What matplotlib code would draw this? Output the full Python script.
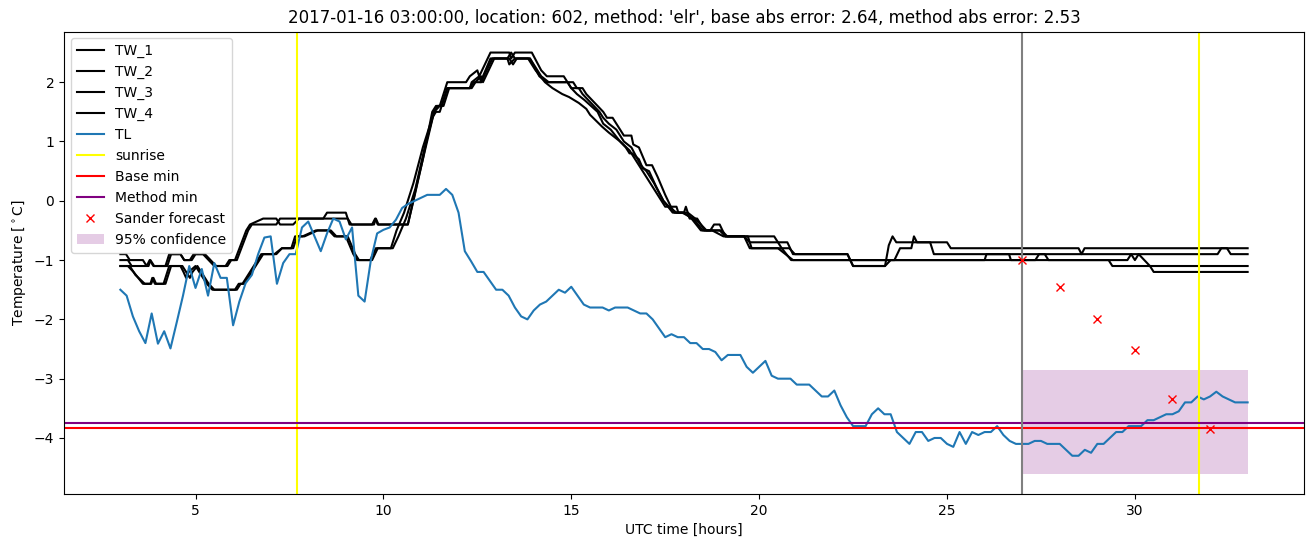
import matplotlib
matplotlib.use("Agg")
import matplotlib.pyplot as plt
import numpy as np

# ---------------- data (hours UTC, temperature degC) ----------------
TW_1 = [(3.0,-0.9),(3.15,-0.9),(3.25,-1.0),(3.6,-1.0),(3.7,-1.1),(3.78,-1.0),(3.88,-1.1),(4.2,-1.1),
        (4.3,-0.9),(4.6,-0.9),(4.7,-1.0),(4.85,-1.0),(4.95,-0.9),(5.2,-0.9),(5.35,-1.0),(5.5,-1.1),
        (5.8,-1.1),(5.9,-1.0),(6.05,-1.0),(6.35,-0.5),(6.45,-0.4),(6.8,-0.3),(7.15,-0.3),(7.25,-0.4),
        (7.6,-0.4),(7.75,-0.3),(8.4,-0.3),(8.5,-0.2),(9.0,-0.2),(9.1,-0.4),(9.75,-0.4),(9.8,-0.3),
        (9.87,-0.4),(10.65,-0.4),(10.9,0.3),(11.2,1.1),(11.35,1.5),(11.5,1.6),(11.7,2.0),(12.2,2.0),
        (12.3,2.1),(12.5,2.2),(12.55,2.1),(12.85,2.5),(13.35,2.5),(13.4,2.4),(13.5,2.5),(13.95,2.5),
        (14.2,2.2),(14.35,2.1),(14.8,2.1),(14.9,2.0),(15.05,2.0),(15.15,1.9),(15.3,1.9),(15.4,1.8),
        (15.55,1.7),(15.85,1.5),(15.95,1.4),(16.1,1.4),(16.2,1.3),(16.4,1.1),(16.6,1.1),(16.65,0.95),
        (16.8,0.9),(17.0,0.6),(17.15,0.6),(17.3,0.4),(17.5,0.1),(17.65,-0.1),(17.8,-0.1),(17.85,-0.2),
        (18.0,-0.2),(18.05,-0.1),(18.15,-0.3),(18.35,-0.3),(18.55,-0.5),(18.7,-0.5),(18.8,-0.4),
        (18.95,-0.4),(19.1,-0.6),(19.85,-0.6),(20.4,-0.6),(20.5,-0.7),(20.75,-0.7),(20.9,-0.9),
        (22.35,-0.9),(22.5,-1.1),(23.35,-1.1),(23.45,-0.75),(23.55,-0.6),(23.65,-0.7),(25.0,-0.7),
        (25.1,-0.8),(28.5,-0.8),(28.58,-0.9),(28.66,-0.8),(32.45,-0.8),(32.55,-0.9),(33.0,-0.9)]

TW_2 = [(3.0,-1.0),(3.2,-1.0),(3.3,-1.1),(3.75,-1.1),(3.8,-1.0),(3.9,-1.1),(4.25,-1.1),(4.35,-0.9),
        (4.6,-0.9),(4.7,-1.0),(4.9,-1.0),(5.0,-0.9),(5.25,-0.9),(5.4,-1.0),(5.55,-1.1),(5.85,-1.1),
        (5.95,-1.0),(6.1,-1.0),(6.4,-0.5),(6.5,-0.4),(7.15,-0.4),(7.25,-0.3),(9.05,-0.3),(9.15,-0.4),
        (9.7,-0.4),(9.78,-0.3),(9.85,-0.4),(10.65,-0.4),(10.8,0.0),(11.05,0.7),(11.3,1.5),(11.4,1.6),
        (11.55,1.6),(11.7,1.9),(12.3,1.9),(12.35,2.0),(12.55,2.1),(12.6,2.0),(12.9,2.4),(13.3,2.4),
        (13.35,2.3),(13.5,2.4),(13.9,2.4),(14.0,2.3),(14.2,2.1),(14.4,2.0),(14.9,2.0),(15.0,1.9),
        (15.2,1.9),(15.3,1.8),(15.45,1.7),(15.75,1.5),(15.85,1.4),(16.0,1.3),(16.2,1.2),(16.4,1.0),
        (16.6,0.9),(16.85,0.6),(17.0,0.5),(17.2,0.3),(17.45,0.0),(17.7,-0.2),(17.95,-0.2),(18.25,-0.3),
        (18.5,-0.5),(18.75,-0.5),(19.05,-0.6),(19.6,-0.6),(19.75,-0.7),(20.5,-0.7),(20.6,-0.8),
        (20.8,-0.8),(20.95,-0.9),(22.35,-0.9),(22.5,-1.1),(23.35,-1.1),(23.5,-1.0),(26.0,-1.0),
        (26.05,-0.9),(26.65,-0.9),(26.7,-1.0),(27.35,-1.0),(27.45,-0.9),(27.6,-0.9),(27.7,-1.0),
        (29.3,-1.0),(29.4,-1.1),(33.0,-1.1)]

TW_3 = [(3.0,-1.1),(3.2,-1.1),(3.35,-1.2),(3.6,-1.4),(3.8,-1.4),(3.85,-1.3),(3.92,-1.4),(4.15,-1.4),
        (4.3,-1.1),(4.6,-1.1),(4.68,-1.2),(4.75,-1.3),(4.82,-1.2),(5.0,-1.1),(5.1,-1.2),(5.3,-1.4),
        (5.45,-1.5),(6.05,-1.5),(6.15,-1.4),(6.25,-1.4),(6.55,-1.1),(6.75,-0.9),(7.1,-0.9),(7.3,-0.8),
        (7.55,-0.8),(7.65,-0.6),(7.85,-0.6),(8.2,-0.5),(8.55,-0.5),(8.7,-0.6),(9.0,-0.6),(9.2,-0.9),
        (9.3,-1.0),(9.65,-1.0),(9.8,-0.8),(10.2,-0.8),(10.35,-0.5),(10.55,-0.2),(10.8,0.3),(11.05,0.9),
        (11.3,1.4),(11.4,1.5),(11.5,1.5),(11.55,1.6),(11.7,1.9),(12.3,1.9),(12.4,2.0),(12.6,2.0),
        (12.65,2.1),(12.85,2.4),(13.3,2.4),(13.4,2.5),(13.5,2.4),(13.9,2.4),(14.15,2.1),(14.35,2.0),
        (14.9,2.0),(15.0,1.9),(15.15,1.8),(15.35,1.7),(15.7,1.5),(15.85,1.3),(16.05,1.2),(16.3,1.0),
        (16.55,0.85),(16.8,0.6),(17.0,0.4),(17.3,0.1),(17.5,-0.1),(17.65,-0.1),(17.75,-0.2),(18.0,-0.2),
        (18.2,-0.3),(18.45,-0.5),(18.95,-0.5),(19.1,-0.6),(19.6,-0.6),(19.75,-0.8),(20.6,-0.8),
        (20.85,-1.0),(23.6,-1.0),(23.75,-0.8),(24.05,-0.8),(24.12,-0.6),(24.2,-0.7),(24.55,-0.7),
        (24.65,-0.9),(32.2,-0.9),(32.3,-0.8),(33.0,-0.8)]

TW_4 = [(3.0,-1.1),(3.25,-1.1),(3.4,-1.25),(3.65,-1.4),(3.82,-1.4),(3.88,-1.3),(3.95,-1.4),(4.2,-1.4),
        (4.35,-1.1),(4.65,-1.1),(4.75,-1.2),(4.85,-1.3),(4.92,-1.2),(5.05,-1.1),(5.15,-1.2),(5.35,-1.4),
        (5.5,-1.5),(6.1,-1.5),(6.2,-1.4),(6.3,-1.4),(6.6,-1.1),(6.8,-0.9),(7.15,-0.9),(7.3,-0.8),
        (7.6,-0.8),(7.7,-0.6),(7.9,-0.6),(8.25,-0.5),(8.6,-0.5),(8.75,-0.6),(9.05,-0.6),(9.25,-0.9),
        (9.35,-1.0),(9.7,-1.0),(9.85,-0.8),(10.25,-0.8),(10.4,-0.6),(10.6,-0.3),(10.85,0.2),(11.1,0.9),
        (11.35,1.5),(11.45,1.6),(11.6,1.6),(11.75,1.9),(12.35,1.9),(12.45,2.0),(12.6,2.1),(12.65,2.0),
        (12.95,2.4),(13.35,2.4),(13.45,2.3),(13.55,2.4),(13.85,2.4),(14.05,2.2),(14.3,2.0),(14.5,1.9),
        (14.76,1.8),(14.94,1.75),(15.2,1.65),(15.4,1.55),(15.5,1.45),(15.82,1.25),(16.0,1.15),
        (16.1,1.1),(16.3,1.0),(16.45,0.9),(16.55,0.8),(16.62,0.8),(16.8,0.7),(16.9,0.55),(17.07,0.5),
        (17.25,0.25),(17.45,0.0),(17.6,-0.1),(17.8,-0.2),(18.1,-0.2),(18.3,-0.3),(18.6,-0.5),
        (19.0,-0.5),(19.15,-0.6),(19.7,-0.6),(19.8,-0.8),(20.5,-0.8),(20.9,-1.0),(29.8,-1.0),
        (29.9,-0.9),(30.0,-1.0),(30.1,-0.9),(30.25,-1.0),(30.4,-1.1),(30.5,-1.2),(33.0,-1.2)]

# TL every 10 minutes from 03:00 to 33:00
TL_start = 3.0
TL = [-1.5, -1.6, -1.95, -2.2, -2.4, -1.9, -2.41, -2.2, -2.49, -2.05,
      -1.6, -1.1, -1.47, -1.15, -1.6, -1.05, -1.3, -1.3, -2.1, -1.7,
      -1.39, -1.25, -0.9, -0.62, -0.6, -1.4, -1.05, -0.9, -0.9, -0.45,
      -0.35, -0.6, -0.85, -0.55, -0.3, -0.35, -0.65, -0.45, -1.6, -1.7,
      -1.0, -0.55, -0.49, -0.45, -0.32, -0.12, -0.05, 0.0, 0.05, 0.1,
      0.1, 0.1, 0.2, 0.1, -0.2, -0.85, -1.02, -1.2, -1.2, -1.35,
      -1.5, -1.5, -1.6, -1.8, -1.95, -2.0, -1.85, -1.75, -1.7, -1.6,
      -1.5, -1.55, -1.45, -1.6, -1.75, -1.8, -1.8, -1.8, -1.85, -1.8,
      -1.8, -1.8, -1.85, -1.9, -1.9, -2.0, -2.15, -2.3, -2.25, -2.3,
      -2.3, -2.4, -2.4, -2.5, -2.5, -2.55, -2.69, -2.6, -2.6, -2.6,
      -2.8, -2.9, -2.8, -2.7, -2.95, -3.0, -3.0, -3.0, -3.1, -3.1,
      -3.1, -3.2, -3.3, -3.3, -3.2, -3.45, -3.65, -3.8, -3.8, -3.8,
      -3.6, -3.5, -3.6, -3.6, -3.9, -4.0, -4.1, -3.9, -3.9, -4.05,
      -4.0, -4.0, -4.1, -4.15, -3.9, -4.1, -3.9, -3.95, -3.9, -3.9,
      -3.8, -3.95, -4.05, -4.1, -4.1, -4.1, -4.05, -4.05, -4.1, -4.1,
      -4.1, -4.2, -4.3, -4.3, -4.2, -4.25, -4.1, -4.1, -4.0, -3.9,
      -3.9, -3.8, -3.8, -3.8, -3.7, -3.7, -3.65, -3.6, -3.6, -3.55,
      -3.4, -3.4, -3.3, -3.35, -3.3, -3.22, -3.3, -3.35, -3.4, -3.4, -3.4]

sunrise_hours = [7.7, 31.7]
base_min = -3.84
method_min = -3.75
forecast_start = 27.0
sander_hours = [27, 28, 29, 30, 31, 32]
sander_temp = [-1.0, -1.45, -1.99, -2.51, -3.34, -3.85]
conf_hours = [27, 33]
conf_low = [-4.6, -4.6]
conf_high = [-2.86, -2.86]

title = ("2017-01-16 03:00:00, location: 602, method: 'elr', "
         "base abs error: 2.64, method abs error: 2.53")

# ---------------- plot ----------------
fig = plt.figure(figsize=(13.13, 5.47), dpi=100)
ax = fig.add_axes([64 / 1313, 1 - 494 / 547, 1240 / 1313, 462.5 / 547])

for name, series in [("TW_1", TW_1), ("TW_2", TW_2), ("TW_3", TW_3), ("TW_4", TW_4)]:
    t, v = zip(*series)
    ax.plot(t, v, color="black", label=name)

tl_hours = TL_start + np.arange(len(TL)) / 6.0
ax.plot(tl_hours, TL, color="C0", label="TL")

for i, s in enumerate(sunrise_hours):
    ax.axvline(s, color="yellow", label="sunrise" if i == 0 else None)
ax.axhline(base_min, color="red", label="Base min")
ax.axhline(method_min, color="purple", label="Method min")
ax.axvline(forecast_start, color="grey")
ax.plot(sander_hours, sander_temp, linestyle="none", marker="x", color="red",
        label="Sander forecast")
ax.fill_between(conf_hours, conf_low, conf_high, color="purple", alpha=0.2,
                linewidth=0, label="95% confidence")

ax.set_xlim(1.5, 34.5)
ax.set_ylim(-4.945, 2.855)
ax.set_title(title)
ax.set_xlabel("UTC time [hours]")
ax.set_ylabel(r"Temperature [$^\circ$C]")
ax.legend(loc="upper left")

fig.savefig("out.png", dpi=100)
